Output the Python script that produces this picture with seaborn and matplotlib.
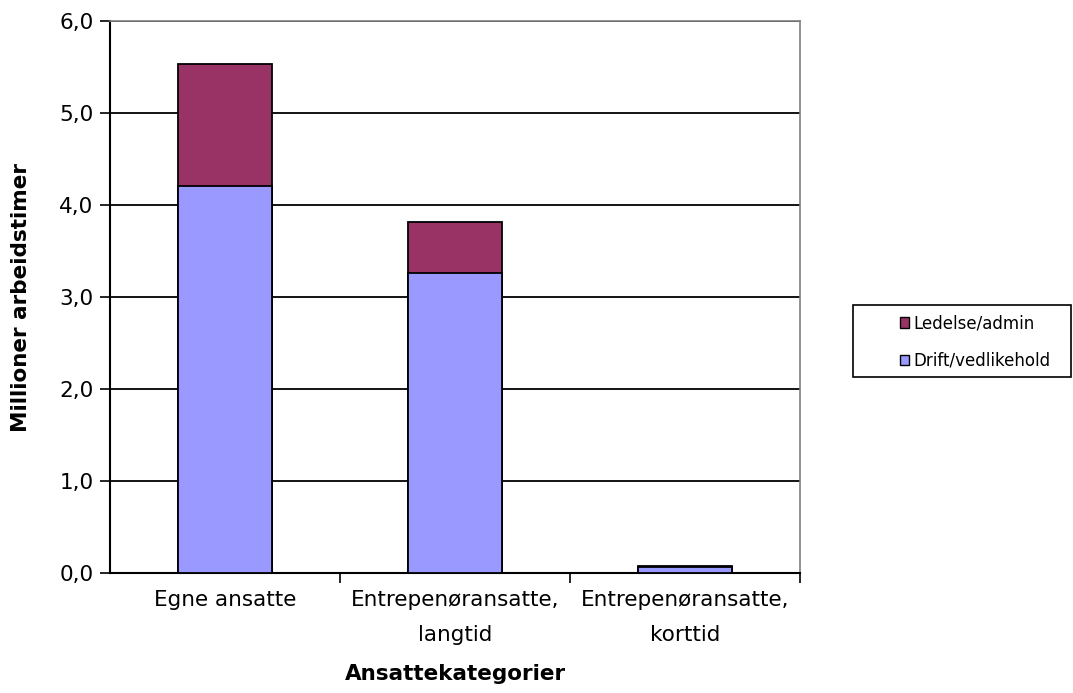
import matplotlib
matplotlib.use("Agg")
import matplotlib.pyplot as plt
import seaborn as sns
import pandas as pd
from matplotlib.patches import Patch, Rectangle
from matplotlib.ticker import FixedLocator, FuncFormatter

categories = ["Egne ansatte", "Entrepenøransatte,\nlangtid", "Entrepenøransatte,\nkorttid"]
drift = [4.21, 3.26, 0.07]
ledelse = [1.32, 0.56, 0.01]
series_names = ["Ledelse/admin", "Drift/vedlikehold"]
yticks = [0, 1, 2, 3, 4, 5, 6]

color_ledelse = "#993366"
color_drift = "#9999FF"

sns.set_theme(style="white")
plt.rcParams["font.family"] = ["DejaVu Sans"]
plt.rcParams["text.color"] = "black"
plt.rcParams["xtick.color"] = "black"
plt.rcParams["ytick.color"] = "black"
plt.rcParams["axes.labelcolor"] = "black"

totals = [d + l for d, l in zip(drift, ledelse)]
df = pd.DataFrame({"kategori": categories, "total": totals, "drift": drift})

fig = plt.figure(figsize=(10.73, 6.93), dpi=100)
ax = fig.add_axes([110 / 1073, 1 - 573 / 693, 690 / 1073, 552 / 693])

ax.set_ylim(0, 6)
for y in yticks[1:]:
    ax.axhline(y, color="black", lw=1.3, zorder=0)

# stacked bars: full total in the admin colour, operations drawn over it
sns.barplot(data=df, x="kategori", y="total", color=color_ledelse, width=0.405,
            edgecolor="black", linewidth=1.3, saturation=1, ax=ax, zorder=2)
sns.barplot(data=df, x="kategori", y="drift", color=color_drift, width=0.405,
            edgecolor="black", linewidth=1.3, saturation=1, ax=ax, zorder=3)
ax.set_xlim(-0.5, 2.5)
ax.set_ylim(0, 6)

ax.set_yticks(yticks)
ax.yaxis.set_major_formatter(FuncFormatter(lambda v, p: f"{v:.1f}".replace(".", ",")))
ax.tick_params(axis="y", which="major", direction="out", length=7, width=1.2,
               color="black", labelsize=15.5, pad=5, left=True)
ax.tick_params(axis="x", which="major", length=0, labelsize=15.5, pad=12)
ax.xaxis.set_minor_locator(FixedLocator([0.5, 1.5, 2.5]))
ax.tick_params(axis="x", which="minor", direction="out", length=7, width=1.2,
               color="black", bottom=True)
for lbl in ax.get_xticklabels():
    lbl.set_linespacing(1.95)

for side in ["left", "bottom"]:
    ax.spines[side].set_color("black")
    ax.spines[side].set_linewidth(1.5)
for side in ["top", "right"]:
    ax.spines[side].set_visible(True)
    ax.spines[side].set_color("#808080")
    ax.spines[side].set_linewidth(1.2)

ax.set_xlabel("Ansattekategorier", fontsize=15.5, fontweight="bold", labelpad=14)
ax.set_ylabel("Millioner arbeidstimer", fontsize=15.5, fontweight="bold", labelpad=20)

# legend with a separate wide frame
fig.patches.append(Rectangle((853 / 1073, 1 - 377 / 693), 218 / 1073, 72 / 693,
                             transform=fig.transFigure, facecolor="white",
                             edgecolor="black", linewidth=1.2, zorder=1))
handles = [Patch(facecolor=color_ledelse, edgecolor="black", label=series_names[0]),
           Patch(facecolor=color_drift, edgecolor="black", label=series_names[1])]
leg = fig.legend(handles=handles, loc="center left", bbox_to_anchor=(900 / 1073, 1 - 342 / 693),
                 fontsize=12, frameon=False, handlelength=0.55, handleheight=0.55,
                 handletextpad=0.25, labelspacing=1.15, borderpad=0, borderaxespad=0)
leg.set_zorder(2)

fig.savefig("out.png", dpi=100, facecolor="white")
